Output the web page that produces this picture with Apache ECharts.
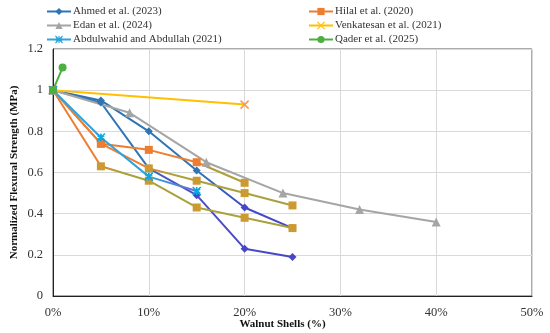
<!DOCTYPE html>
<html><head><meta charset="utf-8">
<script src="https://cdn.jsdelivr.net/npm/echarts@6/dist/echarts.min.js"></script>
<style>html,body{margin:0;padding:0;background:#fff}#c{width:550px;height:333px}</style>
</head><body><div id="c"></div>
<script>
// ---- data ----
const xTicks = [0, 10, 20, 30, 40, 50];
const ahmedX = [0, 5, 10, 15, 20, 25];
const ahmedA = [1, 0.95, 0.80, 0.61, 0.43, 0.33];
const ahmedB = [1, 0.94, 0.62, 0.49, 0.23, 0.19];
const hilalX = [0, 5, 10, 15, 20, 25];
const hilalA = [1, 0.74, 0.71, 0.65, 0.55];
const hilalB = [1, 0.74, 0.62, 0.56, 0.50, 0.44];
const hilalC = [1, 0.63, 0.56, 0.43, 0.38, 0.33];
const edanX = [0, 8, 16, 24, 32, 40];
const edanY = [1, 0.89, 0.65, 0.50, 0.42, 0.36];
const venkX = [0, 20];
const venkY = [1, 0.93];
const abdulX = [0, 5, 10, 15];
const abdulY = [1, 0.77, 0.58, 0.51];
const qaderX = [0, 1];
const qaderY = [1, 1.11];

const names = ['Ahmed et al. (2023)', 'Hilal et al. (2020)', 'Edan et al. (2024)',
  'Venkatesan et al. (2021)', 'Abdulwahid and Abdullah (2021)', 'Qader et al. (2025)'];

// ---- styles ----
const BLUE = '#2E75B6', PURP = '#4646C6', ORNG = '#ED7D31', OLIVE = '#A9A23A', GOLD = '#CC9A30';
const GRAY = '#A5A5A5', YEL = '#FFC000', LBLUE = '#2FA3DC', LAV = '#6A6AD6', GREEN = '#4CAF3F';
const XSYM = 'path://M0,0L10,10M10,0L0,10';
const ASYM = 'path://M5,0L5,10M0.7,2.5L9.3,7.5M9.3,2.5L0.7,7.5M0,0L10,10M10,0L0,10';
const font = 'Liberation Serif';

function pts(xs, ys) { return ys.map((y, i) => [xs[i], y]); }
function grad(stops) {
  return new echarts.graphic.LinearGradient(0, 0, 1, 0, stops.map(s => ({offset: s[0], color: s[1]})));
}
function mk(name, xs, ys, stops, sym, size, thr, c1, c2, stroke) {
  const colorFn = p => (p.data[0] <= thr ? c1 : c2);
  return {
    type: 'line', name: name, data: pts(xs, ys), symbol: sym, symbolSize: size,
    showAllSymbol: true,
    lineStyle: {width: 2, color: grad(stops)},
    itemStyle: stroke ? {color: colorFn, borderColor: colorFn, borderWidth: 1.6} : {color: colorFn, borderWidth: 0},
    emphasis: {disabled: true}, animation: false
  };
}

const series = [
  mk(names[0], ahmedX, ahmedA, [[0, BLUE], [0.6, BLUE], [0.8, PURP], [1, PURP]], 'diamond', 8, 15, BLUE, PURP),
  mk(names[0], ahmedX, ahmedB, [[0, BLUE], [0.38, BLUE], [0.5, '#5050C8'], [1, PURP]], 'diamond', 8, 10, BLUE, PURP),
  mk(names[1], hilalX, hilalA, [[0, ORNG], [0.75, ORNG], [0.85, OLIVE], [1, OLIVE]], 'rect', 8, 15, ORNG, GOLD),
  mk(names[1], hilalX, hilalB, [[0, ORNG], [0.4, ORNG], [0.5, OLIVE], [1, OLIVE]], 'rect', 8, 5, ORNG, GOLD),
  mk(names[1], hilalX, hilalC, [[0, ORNG], [0.2, ORNG], [0.28, OLIVE], [1, OLIVE]], 'rect', 8, 0, ORNG, GOLD),
  mk(names[2], edanX, edanY, [[0, GRAY], [1, GRAY]], 'triangle', 9, 100, GRAY, GRAY),
  mk(names[3], venkX, venkY, [[0, YEL], [1, YEL]], XSYM, 8, 100, YEL, YEL, true),
  mk(names[4], abdulX, abdulY, [[0, LBLUE], [0.66, LBLUE], [1, LAV]], ASYM, 8, 5, '#4AAEE0', LAV, true),
  mk(names[5], qaderX, qaderY, [[0, GREEN], [1, GREEN]], 'circle', 8, 100, GREEN, GREEN)
];

const legColors = [BLUE, ORNG, GRAY, YEL, LBLUE, GREEN];
function legItem(i) {
  const stroke = i === 3 || i === 4;
  return {name: names[i],
    itemStyle: stroke ? {color: legColors[i], borderColor: legColors[i], borderWidth: 1.2} : {color: legColors[i], borderWidth: 0},
    lineStyle: {color: legColors[i], width: 2}};
}
const legText = {fontFamily: font, fontSize: 11, color: '#333', padding: [0, 0, 0, -3]};

const chart = echarts.init(document.getElementById('c'), null, {renderer: 'canvas'});
chart.setOption({
  animation: false,
  backgroundColor: '#fff',
  legend: [
    {orient: 'vertical', left: 46, top: 6, itemGap: 3, itemWidth: 24, itemHeight: 9, padding: 0,
     data: [legItem(0), legItem(2), legItem(4)], textStyle: legText, selectedMode: false},
    {orient: 'vertical', left: 308, top: 6, itemGap: 3, itemWidth: 24, itemHeight: 9, padding: 0,
     data: [legItem(1), legItem(3), legItem(5)], textStyle: legText, selectedMode: false}
  ],
  grid: {left: 53, right: 18, top: 49, bottom: 37, show: true, borderColor: '#595959', borderWidth: 1,
         outerBoundsMode: 'none', containLabel: false},
  xAxis: {
    type: 'value', min: xTicks[0], max: xTicks[xTicks.length - 1], interval: xTicks[1] - xTicks[0],
    name: 'Walnut Shells (%)', nameLocation: 'middle', nameGap: 23, nameMoveOverlap: false,
    nameTextStyle: {fontFamily: font, fontWeight: 'bold', fontSize: 11, color: '#111', padding: [0, 20, 0, 0]},
    axisLine: {show: true, lineStyle: {color: '#222', width: 1}},
    axisTick: {show: false},
    axisLabel: {formatter: v => v + '%', fontFamily: font, fontSize: 12.5, color: '#333', margin: 10},
    splitLine: {show: true, lineStyle: {color: '#D9D9D9', width: 1}}
  },
  yAxis: {
    type: 'value', min: 0, max: 1.2, interval: 0.2,
    name: 'Normalized Flexural Strength (MPa)', nameLocation: 'middle', nameGap: 33, nameMoveOverlap: false,
    nameTextStyle: {fontFamily: font, fontWeight: 'bold', fontSize: 11, color: '#111'},
    axisLine: {show: true, lineStyle: {color: '#222', width: 1}},
    axisTick: {show: false},
    axisLabel: {fontFamily: font, fontSize: 12.5, color: '#333', margin: 10},
    splitLine: {show: true, lineStyle: {color: '#D9D9D9', width: 1}}
  },
  series: series
});
</script></body></html>
